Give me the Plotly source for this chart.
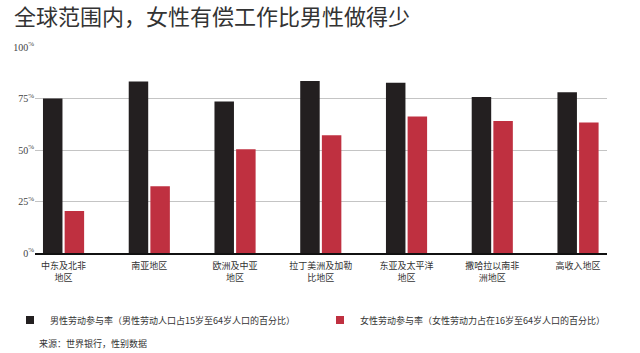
import plotly.graph_objects as go

title_text = "全球范围内，女性有偿工作比男性做得少"
regions = ["中东及北非<br>地区", "南亚地区", "欧洲及中亚<br>地区", "拉丁美洲及加勒<br>比地区",
           "东亚及太平洋<br>地区", "撒哈拉以南非<br>洲地区", "高收入地区"]
male = [75.0, 83.2, 73.6, 83.5, 82.7, 75.7, 78.0]
female = [20.4, 32.4, 50.4, 57.2, 66.3, 64.1, 63.4]
male_name = "男性劳动参与率（男性劳动人口占15岁至64岁人口的百分比）"
female_name = "女性劳动参与率（女性劳动力占在16岁至64岁人口的百分比）"
source_text = "来源：世界银行，性别数据"
y_ticks = [0, 25, 50, 75, 100]
y_tick_labels = ["0<sup>%</sup>", "25<sup>%</sup>", "50<sup>%</sup>", "75<sup>%</sup>", "100<sup>%</sup>"]

BLACK = "#231f20"
RED = "#bf3040"
CJK = "Noto Sans CJK SC"

xs = list(range(len(regions)))

fig = go.Figure()
fig.add_trace(go.Bar(x=xs, y=male, marker_color=BLACK, marker_line_width=0,
                     name=male_name, showlegend=False))
fig.add_trace(go.Bar(x=xs, y=female, marker_color=RED, marker_line_width=0,
                     name=female_name, showlegend=False))
# legend swatches
fig.add_trace(go.Scatter(x=[None], y=[None], mode="markers", name=male_name,
                         marker=dict(symbol="square", size=8, color=BLACK), legend="legend"))
fig.add_trace(go.Scatter(x=[None], y=[None], mode="markers", name=female_name,
                         marker=dict(symbol="square", size=8, color=RED), legend="legend2"))

legend_common = dict(orientation="h", xref="container", yref="container",
                     xanchor="left", y=1-320/353, yanchor="middle",
                     font=dict(family=CJK, size=9, color="#333333"),
                     itemwidth=30, bgcolor="rgba(0,0,0,0)")

fig.update_layout(
    width=640, height=353,
    margin=dict(l=35, r=33, t=47, b=100),
    paper_bgcolor="white", plot_bgcolor="white",
    barmode="group", bargap=0.495, bargroupgap=0.1,
    title=dict(text=title_text, x=14/640, xref="container", xanchor="left",
               y=1-17/353, yref="container", yanchor="middle",
               font=dict(family=CJK, size=22, color="#333333")),
    xaxis=dict(range=[-0.333, 6.338], tickvals=xs, ticktext=regions,
               showgrid=False, zeroline=False, showline=True,
               linecolor="#111111", linewidth=2, ticks="", ticklabelstandoff=3,
               tickfont=dict(family=CJK, size=9, color="#333333")),
    yaxis=dict(range=[0, 100], tickvals=y_ticks, ticktext=y_tick_labels,
               showgrid=True, gridcolor="#c4c4c4", gridwidth=1,
               zeroline=False, showline=False, ticks="",
               tickfont=dict(family="Liberation Serif", size=10, color="#444444")),
    legend=dict(x=10/640, **legend_common),
    legend2=dict(x=320/640, **legend_common),
    annotations=[dict(text=source_text, xref="paper", yref="paper",
                      x=0, xshift=2, y=-(343-253)/206, xanchor="left", yanchor="middle",
                      showarrow=False, font=dict(family=CJK, size=9, color="#333333"))],
)

fig.write_html("out.html")
